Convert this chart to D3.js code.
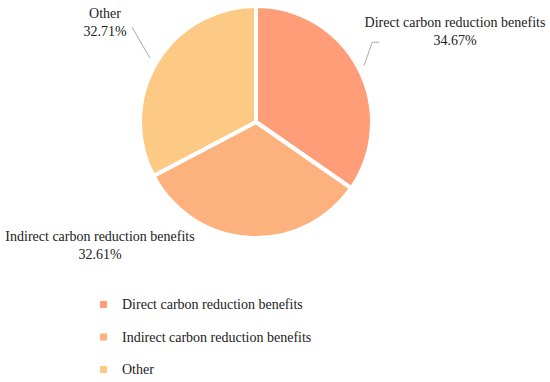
<!DOCTYPE html>
<html>
<head>
<meta charset="utf-8">
<script src="https://cdn.jsdelivr.net/npm/d3@7"></script>
<style>
  body { margin: 0; background: #fff; }
  text { font-family: "Liberation Serif", "Times New Roman", serif; fill: #222; }
</style>
</head>
<body>
<div id="my_dataviz"></div>
<script>
// chart data
var categories = ["Direct carbon reduction benefits", "Indirect carbon reduction benefits", "Other"];
var shares = [34.67, 32.61, 32.71];
var colors = ["#fe9d77", "#fdb27d", "#fdca86"];

var width = 550, height = 382;
var cx = 256, cy = 122, radius = 116;

var svg = d3.select("#my_dataviz")
  .append("svg")
    .attr("width", width)
    .attr("height", height);

var pie = d3.pie().sort(null).value(function (d) { return d; });
var arcs = pie(shares);

var arc = d3.arc().innerRadius(0).outerRadius(radius);

var g = svg.append("g")
    .attr("transform", "translate(" + cx + "," + cy + ")");

g.selectAll("path")
  .data(arcs)
  .enter()
  .append("path")
    .attr("d", arc)
    .style("fill", function (d, i) { return colors[i]; })
    .style("stroke", "#fff")
    .style("stroke-width", 4)
    .style("stroke-linejoin", "round");

// point at angle a (clockwise from top) and distance r
function polar(a, r) {
  return [r * Math.sin(a), -r * Math.cos(a)];
}

// label placement (relative to centre): leader line + text anchor
var labelLayout = [
  { line: [[radius + 6, 0], [radius + 25, -0.12]], tail: 7, tx: 199, ty: -95 },
  { line: null, tx: -156, ty: 119 },
  { line: [[radius + 8, 0], [radius + 40, 0.11]], tail: 0, tx: -151, ty: -104 }
];

arcs.forEach(function (d, i) {
  var mid = (d.startAngle + d.endAngle) / 2;
  var lay = labelLayout[i];
  if (lay.line) {
    var p1 = polar(mid + lay.line[0][1], lay.line[0][0]);
    var p2 = polar(mid + lay.line[1][1], lay.line[1][0]);
    var pts = [p1, p2];
    if (lay.tail) pts.push([p2[0] + (p2[0] > 0 ? lay.tail : -lay.tail), p2[1]]);
    g.append("path")
      .attr("d", d3.line()(pts))
      .style("fill", "none")
      .style("stroke", "#aaa")
      .style("stroke-width", 1);
  }
  var t = g.append("text")
    .attr("x", lay.tx)
    .attr("y", lay.ty)
    .style("text-anchor", "middle")
    .style("font-size", "14px");
  t.append("tspan").attr("x", lay.tx).attr("dy", 0).text(categories[i]);
  t.append("tspan").attr("x", lay.tx).attr("dy", 18).text(shares[i].toFixed(2) + "%");
});

// legend
var legend = svg.append("g")
    .attr("transform", "translate(100,304.5)");

var items = legend.selectAll("g")
  .data(categories)
  .enter()
  .append("g")
    .attr("transform", function (d, i) { return "translate(0," + (i * 32.5) + ")"; });

items.append("rect")
    .attr("x", 0)
    .attr("y", -3.5)
    .attr("width", 7)
    .attr("height", 7)
    .style("fill", function (d, i) { return colors[i]; });

items.append("text")
    .attr("x", 22)
    .attr("y", 4.5)
    .style("font-size", "14px")
    .text(function (d) { return d; });
</script>
</body>
</html>
